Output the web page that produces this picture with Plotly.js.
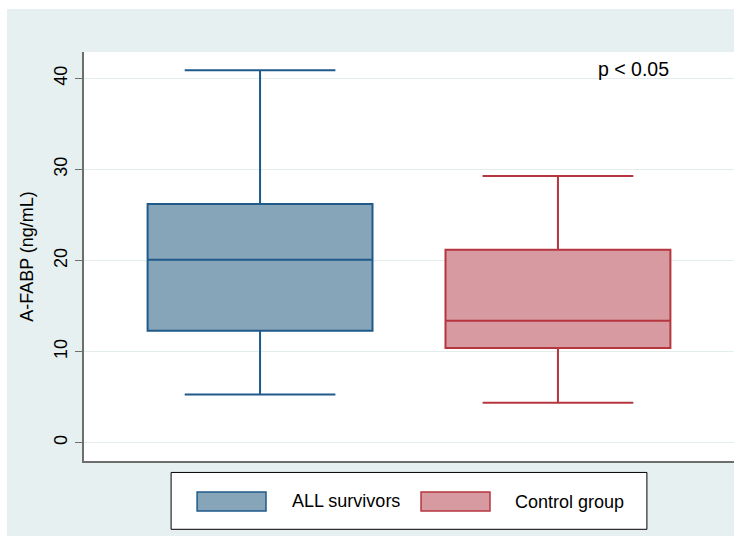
<!DOCTYPE html>
<html>
<head>
<meta charset="utf-8">
<script src="https://cdn.plot.ly/plotly-3.0.1.min.js"></script>
<style>
  html, body { margin: 0; padding: 0; background: #ffffff; width: 743px; height: 545px; overflow: hidden; }
  #chart { position: absolute; left: 7px; top: 9px; width: 727px; height: 527px; }
</style>
</head>
<body>
<div id="chart"></div>
<script>
// Data (precomputed box statistics)
const groups      = ["ALL survivors", "Control group"];
const lowerFence  = [5.3, 4.4];
const q1Values    = [12.3, 10.4];
const medians     = [20.1, 13.4];
const q3Values    = [26.2, 21.2];
const upperFence  = [40.9, 29.3];
const yTicks      = [0, 10, 20, 30, 40];
const yTitle      = "A-FABP (ng/mL)";
const pText       = "p < 0.05";

const fills = ["#87a5b9", "#d79aa0"];
const lines = ["#1f5a8b", "#b5363f"];
const FONT = "Liberation Sans, Arial, sans-serif";

const traces = groups.map((g, i) => ({
  type: "box",
  name: g,
  x: [i],
  q1: [q1Values[i]],
  median: [medians[i]],
  q3: [q3Values[i]],
  lowerfence: [lowerFence[i]],
  upperfence: [upperFence[i]],
  width: 0.755,
  whiskerwidth: 0.67,
  fillcolor: fills[i],
  line: { color: lines[i], width: 2 },
  boxpoints: false,
  hoverinfo: "skip",
  showlegend: false
}));

// Legend drawn with shapes/annotations (paper coords)
const legendShapes = [
  { type: "rect", xref: "paper", yref: "paper", x0: 0.134, x1: 0.866, y0: -0.028, y1: -0.167,
    line: { color: "#000000", width: 1 }, fillcolor: "#ffffff", layer: "above" },
  { type: "rect", xref: "paper", yref: "paper", x0: 0.174, x1: 0.280, y0: -0.076, y1: -0.122,
    line: { color: lines[0], width: 1.5 }, fillcolor: fills[0], layer: "above" },
  { type: "rect", xref: "paper", yref: "paper", x0: 0.5185, x1: 0.6246, y0: -0.076, y1: -0.122,
    line: { color: lines[1], width: 1.5 }, fillcolor: fills[1], layer: "above" }
];

const annotations = [
  { xref: "paper", yref: "paper", x: 0.317, y: -0.098, xanchor: "left", yanchor: "middle",
    text: groups[0], showarrow: false, font: { family: FONT, size: 18, color: "#000" } },
  { xref: "paper", yref: "paper", x: 0.660, y: -0.100, xanchor: "left", yanchor: "middle",
    text: groups[1], showarrow: false, font: { family: FONT, size: 18, color: "#000" } },
  { xref: "paper", yref: "y", x: 0.8455, y: 41.0, xanchor: "center", yanchor: "middle",
    text: pText, showarrow: false, font: { family: FONT, size: 19.5, color: "#000" } }
];

const layout = {
  width: 727,
  height: 527,
  margin: { l: 77, r: 0, t: 43, b: 75, pad: 0 },
  paper_bgcolor: "#e6f0f0",
  plot_bgcolor: "#ffffff",
  font: { family: FONT, color: "#000" },
  showlegend: false,
  xaxis: {
    range: [-0.591, 1.591],
    showgrid: false,
    zeroline: false,
    showticklabels: false,
    ticks: "",
    showline: true,
    linecolor: "#6e6e6e",
    linewidth: 2,
    fixedrange: true
  },
  yaxis: {
    range: [-2.0, 42.9],
    tickvals: yTicks,
    ticktext: yTicks.map(String),
    tickangle: -90,
    ticks: "outside",
    ticklen: 7,
    tickcolor: "#6e6e6e",
    tickwidth: 1,
    ticklabelstandoff: 1,
    tickfont: { size: 18, color: "#000" },
    showgrid: true,
    gridcolor: "#e3eded",
    gridwidth: 1,
    zeroline: false,
    showline: true,
    linecolor: "#6e6e6e",
    linewidth: 2,
    title: { text: yTitle, font: { size: 18, color: "#000" }, standoff: 12 },
    fixedrange: true
  },
  shapes: legendShapes,
  annotations: annotations
};

Plotly.newPlot("chart", traces, layout, { staticPlot: true, displayModeBar: false });
</script>
</body>
</html>
